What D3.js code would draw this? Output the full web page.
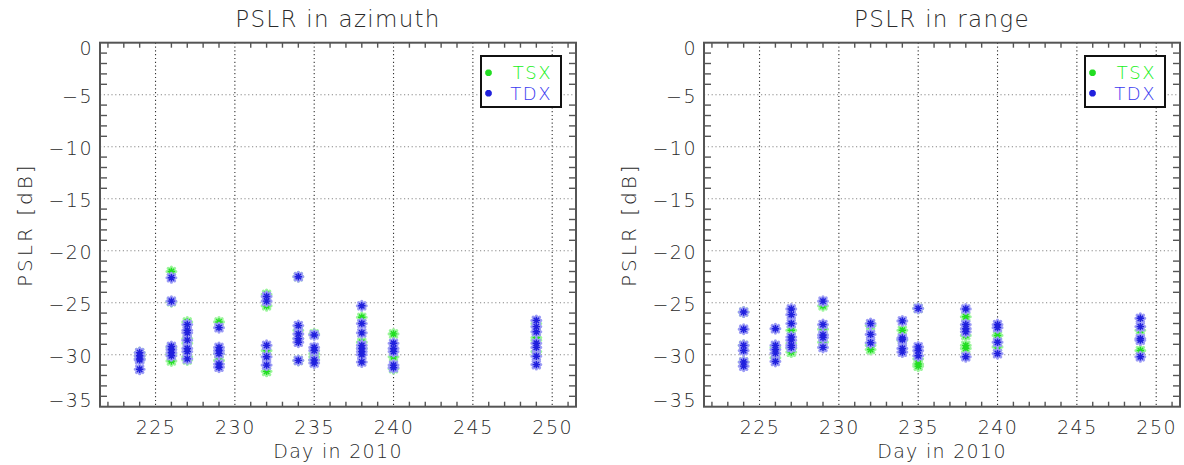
<!DOCTYPE html>
<html>
<head>
<meta charset="utf-8">
<script src="https://cdn.jsdelivr.net/npm/d3@7"></script>
<style>
  body { margin: 0; background: #fff; }
  text { font-family: "DejaVu Sans", sans-serif; font-weight: 200; fill: #2a2a2a; }
</style>
</head>
<body>
<svg id="chart" width="1184" height="465"></svg>
<script>
// acquisition days (2010)
const days = [224, 226, 227, 229, 232, 234, 235, 238, 240, 249];

// PSLR in azimuth [dB], one list per day
const azimuthTSX = [
  [-29.8, -30.1, -30.4],
  [-22.0, -24.9, -29.3, -29.9, -30.6],
  [-26.85, -28.45, -28.9, -30.2, -30.5],
  [-26.85, -29.9, -30.55],
  [-24.2, -25.3, -29.6, -31.6],
  [-22.5, -27.65, -28.45, -30.55],
  [-28.0, -29.9, -30.2, -30.5],
  [-26.4, -28.8, -29.4],
  [-28.0, -30.2, -31.35],
  [-27.0, -28.35, -28.6, -29.7]
];
const azimuthTDX = [
  [-29.8, -30.1, -30.4, -30.5, -31.4],
  [-22.6, -24.85, -29.2, -29.5, -29.8, -30.1],
  [-27.1, -27.65, -27.9, -28.6, -29.4, -29.7, -30.4],
  [-27.4, -29.3, -29.6, -29.9, -30.9, -31.2],
  [-24.4, -24.85, -29.1, -30.2, -31.0],
  [-22.5, -27.2, -28.0, -28.45, -28.8, -30.55],
  [-28.1, -29.3, -29.6, -30.5, -30.8],
  [-25.3, -27.0, -27.9, -29.1, -29.4, -29.7, -30.0, -30.7],
  [-28.9, -29.4, -29.7, -31.0, -31.25],
  [-26.7, -27.3, -27.8, -28.9, -29.3, -30.15, -30.95]
];

// PSLR in range [dB]
const rangeTSX = [
  [-25.9, -29.1, -30.7],
  [-29.3, -30.3],
  [-27.65, -28.9, -29.4, -29.75],
  [-25.3, -27.55, -28.8],
  [-27.2, -29.1, -29.5],
  [-27.65, -28.6],
  [-25.55, -30.4, -30.9, -31.1],
  [-26.35, -28.15, -29.1, -29.4],
  [-28.15, -29.25],
  [-27.65, -29.6]
];
const rangeTDX = [
  [-25.9, -27.55, -29.1, -29.6, -30.7, -31.1],
  [-27.5, -29.1, -29.5, -29.85, -30.65],
  [-25.6, -26.15, -27.0, -28.3, -28.6, -29.1, -29.3],
  [-24.85, -27.1, -28.1, -28.35, -29.3],
  [-27.0, -28.05, -28.85],
  [-26.75, -28.4, -28.55, -29.4, -29.75],
  [-25.55, -29.25, -29.6, -30.1],
  [-25.6, -27.1, -27.5, -27.8, -30.2],
  [-27.1, -27.4, -28.8, -29.9],
  [-26.5, -27.3, -28.45, -28.6, -30.2]
];

const series = ['TSX', 'TDX'];
const colors = { TSX: '#22dd22', TDX: '#2020dd' };
const halo = { TSX: '#9cf59c', TDX: '#9c9cf5' };
const textColors = { TSX: '#20f020', TDX: '#3a3af0' };

const W = 476, H = 364;
const svg = d3.select('#chart');

const x = d3.scaleLinear().domain([221.5, 251.5]).range([0, W]);
const y = d3.scaleLinear().domain([-35, 0]).range([H, 0]);

function flatten(lists) {
  let out = [];
  lists.forEach((vals, i) => vals.forEach(v => out.push([days[i], v])));
  return out;
}

// asterisk marker (plus + cross)
function star(s) {
  let d = s * 0.72;
  return `M${-s},0L${s},0M0,${-s}L0,${s}M${-d},${-d}L${d},${d}M${-d},${d}L${d},${-d}`;
}

function drawPanel(ox, title, tsx, tdx) {
  const g = svg.append('g').attr('transform', `translate(${ox},42.7)`);

  // grid (major ticks as dotted lines)
  g.selectAll('.vgrid')
    .data(x.ticks(6))
    .enter().append('line')
    .attr('x1', d => x(d)).attr('x2', d => x(d))
    .attr('y1', 0).attr('y2', H)
    .attr('stroke', '#333').attr('stroke-width', 1.1)
    .attr('stroke-dasharray', '1.2,2.6');

  g.selectAll('.hgrid')
    .data(y.ticks(7).filter(d => d > -35 && d < 0))
    .enter().append('line')
    .attr('x1', 0).attr('x2', W)
    .attr('y1', d => y(d)).attr('y2', d => y(d))
    .attr('stroke', '#888').attr('stroke-width', 1.1)
    .attr('stroke-dasharray', '1.2,2.6');

  // minor ticks on all sides
  let xMinor = d3.range(222, 252).filter(d => d % 5 !== 0);
  let yMinor = d3.range(-34, 0).filter(d => d % 5 !== 0);
  let ticks = g.append('g').attr('stroke', '#555').attr('stroke-width', 1.4);
  xMinor.forEach(d => {
    ticks.append('line').attr('x1', x(d)).attr('x2', x(d)).attr('y1', H).attr('y2', H - 5);
    ticks.append('line').attr('x1', x(d)).attr('x2', x(d)).attr('y1', 0).attr('y2', 5);
  });
  yMinor.forEach(d => {
    ticks.append('line').attr('x1', 0).attr('x2', 7).attr('y1', y(d)).attr('y2', y(d));
    ticks.append('line').attr('x1', W).attr('x2', W - 7).attr('y1', y(d)).attr('y2', y(d));
  });

  // data: TSX first, TDX on top
  [['TSX', tsx], ['TDX', tdx]].forEach(([name, lists]) => {
    let pts = flatten(lists);
    let m = g.append('g');
    m.selectAll('path.h')
      .data(pts)
      .enter().append('path')
      .attr('transform', d => `translate(${x(d[0])},${y(d[1])})`)
      .attr('d', star(4.4))
      .attr('stroke', halo[name]).attr('stroke-width', 3.2)
      .attr('stroke-linecap', 'round').attr('fill', 'none');
    m.selectAll('path.c')
      .data(pts)
      .enter().append('path')
      .attr('transform', d => `translate(${x(d[0])},${y(d[1])})`)
      .attr('d', star(3.7))
      .attr('stroke', colors[name]).attr('stroke-width', 1.4)
      .attr('fill', 'none');
  });

  // frame
  g.append('rect')
    .attr('width', W).attr('height', H)
    .attr('fill', 'none').attr('stroke', '#555').attr('stroke-width', 2);

  // axis labels
  let xAxis = g.append('g')
    .attr('transform', `translate(0,${H})`)
    .call(d3.axisBottom(x).ticks(6).tickSize(0).tickPadding(0));
  xAxis.select('.domain').remove();
  xAxis.selectAll('text')
    .attr('y', 21).attr('dy', '0.32em')
    .style('font-size', '19px').style('letter-spacing', '1.5px').attr('fill', '#2a2a2a');

  let yAxis = g.append('g')
    .call(d3.axisLeft(y).ticks(7).tickSize(0).tickPadding(0));
  yAxis.select('.domain').remove();
  yAxis.selectAll('.tick')
    .attr('transform', d => `translate(0,${Math.max(6, Math.min(H - 6.5, y(d) + 1.5))})`);
  yAxis.selectAll('text')
    .attr('x', -7).attr('dy', '0.35em')
    .style('font-size', '19px').style('letter-spacing', '1.5px').attr('fill', '#2a2a2a');

  // titles
  g.append('text')
    .attr('x', W / 2).attr('y', -24)
    .attr('text-anchor', 'middle').attr('dominant-baseline', 'central')
    .style('font-size', '23px').style('letter-spacing', '1.3px')
    .text(title);

  g.append('text')
    .attr('x', W / 2).attr('y', H + 44)
    .attr('text-anchor', 'middle').attr('dominant-baseline', 'central')
    .style('font-size', '19px').style('letter-spacing', '1.3px')
    .text('Day in 2010');

  g.append('text')
    .attr('transform', `translate(-75,${H / 2}) rotate(-90)`)
    .attr('text-anchor', 'middle').attr('dominant-baseline', 'central')
    .style('font-size', '20px').style('letter-spacing', '3px')
    .text('PSLR [dB]');

  // legend
  let lg = g.append('g').attr('transform', `translate(${W - 95},13.3)`);
  lg.append('rect')
    .attr('width', 80).attr('height', 51)
    .attr('fill', '#fff').attr('stroke', '#111').attr('stroke-width', 2);
  series.forEach((name, i) => {
    let ly = 16.8 + i * 20.5;
    lg.append('path')
      .attr('transform', `translate(7.5,${ly})`)
      .attr('d', star(3.3))
      .attr('stroke', colors[name]).attr('stroke-width', 2.4).attr('fill', 'none');
    lg.append('text')
      .attr('x', 71).attr('y', ly)
      .attr('text-anchor', 'end').attr('dominant-baseline', 'central')
      .style('font-size', '18px').style('letter-spacing', '1.5px')
      .style('fill', textColors[name])
      .text(name);
  });
}

drawPanel(100, 'PSLR in azimuth', azimuthTSX, azimuthTDX);
drawPanel(704, 'PSLR in range', rangeTSX, rangeTDX);
</script>
</body>
</html>
